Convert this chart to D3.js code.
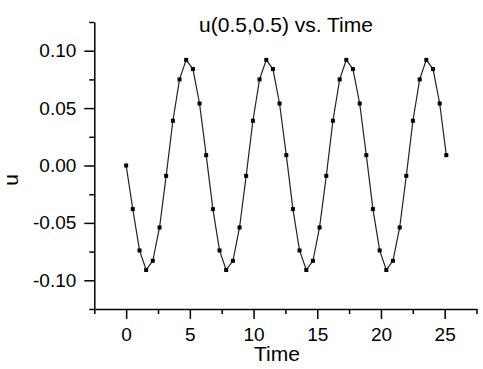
<!DOCTYPE html>
<html>
<head>
<meta charset="utf-8">
<script src="https://cdn.jsdelivr.net/npm/d3@7"></script>
<style>
  body { margin: 0; background: #fff; }
  svg { display: block; font-family: "Liberation Sans", Arial, sans-serif; }
</style>
</head>
<body>
<div id="chart"></div>
<script>
// time samples
const times = [0, 0.52, 1.05, 1.57, 2.09, 2.62, 3.14, 3.67, 4.19, 4.71, 5.24, 5.76,
  6.28, 6.81, 7.33, 7.85, 8.38, 8.90, 9.42, 9.95, 10.47, 11.00, 11.52, 12.04,
  12.57, 13.09, 13.61, 14.14, 14.66, 15.18, 15.71, 16.23, 16.76, 17.28, 17.80, 18.33,
  18.85, 19.37, 19.90, 20.42, 20.94, 21.47, 21.99, 22.51, 23.04, 23.56, 24.09, 24.61,
  25.13];

// u(0.5,0.5) values
const uValues = [0, -0.038, -0.074, -0.091, -0.083, -0.054, -0.009, 0.039, 0.075, 0.092, 0.084, 0.054,
  0.009, -0.038, -0.074, -0.091, -0.083, -0.054, -0.009, 0.039, 0.075, 0.092, 0.084, 0.054,
  0.009, -0.038, -0.074, -0.091, -0.083, -0.054, -0.009, 0.039, 0.075, 0.092, 0.084, 0.054,
  0.009, -0.038, -0.074, -0.091, -0.083, -0.054, -0.009, 0.039, 0.075, 0.092, 0.084, 0.054,
  0.009];

const xTicks = [0, 5, 10, 15, 20, 25];
const xMinorTicks = [-2.5, 2.5, 7.5, 12.5, 17.5, 22.5, 27.5];
const yTicks = [-0.10, -0.05, 0.00, 0.05, 0.10];
const yMinorTicks = [-0.125, -0.075, -0.025, 0.025, 0.075, 0.125];

const titleText = "u(0.5,0.5) vs. Time";
const xLabel = "Time";
const yLabel = "u";

const width = 483, height = 369;

const svg = d3.select("#chart").append("svg")
    .attr("width", width)
    .attr("height", height);

// scales
const x = d3.scaleLinear().domain([-2.5, 27.5]).range([94.3, 476.5]);
const y = d3.scaleLinear().domain([-0.125, 0.125]).range([309, 22]);

const data = times.map((t, i) => ({ t: t, u: uValues[i] }));

// minor ticks first
svg.append("g")
    .attr("transform", `translate(0,${y(-0.125)})`)
    .call(d3.axisBottom(x).tickValues(xMinorTicks).tickSize(5).tickSizeOuter(0).tickFormat(""))
    .call(g => g.select(".domain").remove())
    .call(g => g.selectAll("line").attr("stroke-width", 1.5));

svg.append("g")
    .attr("transform", `translate(${x(-2.5)},0)`)
    .call(d3.axisLeft(y).tickValues(yMinorTicks).tickSize(5).tickSizeOuter(0).tickFormat(""))
    .call(g => g.select(".domain").remove())
    .call(g => g.selectAll("line").attr("stroke-width", 1.5));

// major axes
const xAxis = svg.append("g")
    .attr("transform", `translate(0,${y(-0.125)})`)
    .call(d3.axisBottom(x).tickValues(xTicks).tickSize(10).tickSizeOuter(0).tickPadding(9).tickFormat(d3.format("d")));

const yAxis = svg.append("g")
    .attr("transform", `translate(${x(-2.5)},0)`)
    .call(d3.axisLeft(y).tickValues(yTicks).tickSize(10).tickSizeOuter(0).tickPadding(8).tickFormat(d3.format(".2f")));

[xAxis, yAxis].forEach(g => {
    g.select(".domain").attr("stroke-width", 1.5);
    g.selectAll("line").attr("stroke-width", 1.5);
    g.selectAll("text")
        .attr("font-family", "\"Liberation Sans\", Arial, sans-serif")
        .attr("font-size", 19)
        .attr("fill", "#000");
});
// use a real minus sign look like the reference (plain hyphen)
yAxis.selectAll("text").text(d => d3.format(".2f")(d).replace("−", "-"));

// line
const line = d3.line().x(d => x(d.t)).y(d => y(d.u));
svg.append("path")
    .datum(data)
    .attr("fill", "none")
    .attr("stroke", "#222")
    .attr("stroke-width", 1.2)
    .attr("d", line);

// square markers
svg.selectAll(".pt")
    .data(data)
    .enter()
    .append("rect")
    .attr("class", "pt")
    .attr("x", d => x(d.t) - 2)
    .attr("y", d => y(d.u) - 2)
    .attr("width", 4)
    .attr("height", 4)
    .attr("fill", "#000");

// title and labels
svg.append("text")
    .attr("x", 286)
    .attr("y", 32)
    .attr("text-anchor", "middle")
    .attr("font-size", 21)
    .text(titleText);

svg.append("text")
    .attr("x", 277)
    .attr("y", 361)
    .attr("text-anchor", "middle")
    .attr("font-size", 21)
    .text(xLabel);

svg.append("text")
    .attr("transform", "translate(18,180) rotate(-90)")
    .attr("text-anchor", "middle")
    .attr("font-size", 21)
    .text(yLabel);
</script>
</body>
</html>
